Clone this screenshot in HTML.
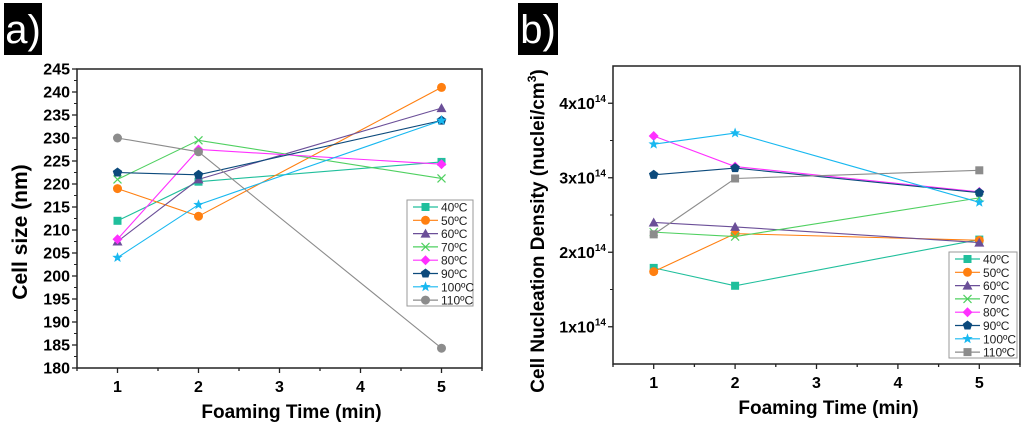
<!DOCTYPE html>
<html><head><meta charset="utf-8"><style>
body{margin:0;background:#fff;width:1024px;height:430px;overflow:hidden;font-family:"Liberation Sans",sans-serif}
svg{position:absolute;left:0;top:0}
</style></head><body>
<svg id="s" width="1024" height="430" xmlns="http://www.w3.org/2000/svg">
<rect x="4" y="3" width="38" height="52" fill="#000"/>
<text x="23" y="43" font-size="40" fill="#fff" text-anchor="middle" font-family="Liberation Sans">a)</text>
<rect x="518" y="3" width="40" height="52" fill="#000"/>
<text x="538" y="43" font-size="40" fill="#fff" text-anchor="middle" font-family="Liberation Sans">b)</text>
</svg>
<script>
const xCats=[1,2,5];
const seriesNames=["40ºC","50ºC","60ºC","70ºC","80ºC","90ºC","100ºC","110ºC"];
const colors=["#20bf9c","#ff7f10","#6b4f98","#4fd060","#ff30ff","#0c4a7c","#18b8f0","#8c8c8c"];
const aTicks=[180,185,190,195,200,205,210,215,220,225,230,235,240,245];
const a40=[212,220.5,224.8],a50=[219,213,241],a60=[207.5,221,236.5],a70=[221,229.5,221.2],a80=[208,227.5,224.3],a90=[222.5,222,233.8],a100=[204,215.5,233.8],a110=[230,227,184.3];
const bTicks=[1,2,3,4];
const b40=[1.79,1.55,2.17],b50=[1.74,2.25,2.16],b60=[2.40,2.34,2.13],b70=[2.27,2.21,2.73],b80=[3.56,3.15,2.81],b90=[3.04,3.13,2.80],b100=[3.45,3.60,2.67],b110=[2.24,2.99,3.10];
const xTicks=[1,2,3,4,5];
const NS="http://www.w3.org/2000/svg",S=document.getElementById('s');
function el(t,a,p){const e=document.createElementNS(NS,t);for(const k in a)e.setAttribute(k,a[k]);(p||S).appendChild(e);return e;}
function marker(g,shape,x,y,c){let e;
 if(shape=='sq')e=el('rect',{x:x-4,y:y-4,width:8,height:8,fill:c},g);
 else if(shape=='ci')e=el('circle',{cx:x,cy:y,r:4.5,fill:c},g);
 else if(shape=='tr')e=el('polygon',{points:`${x},${y-5} ${x+5},${y+4} ${x-5},${y+4}`,fill:c},g);
 else if(shape=='x')e=el('path',{d:`M${x-4} ${y-4}L${x+4} ${y+4}M${x+4} ${y-4}L${x-4} ${y+4}`,stroke:c,'stroke-width':1.2,fill:'none'},g);
 else if(shape=='di')e=el('polygon',{points:`${x},${y-5} ${x+5},${y} ${x},${y+5} ${x-5},${y}`,fill:c},g);
 else if(shape=='pe'){let p=[];for(let i=0;i<5;i++){const a=-Math.PI/2+i*2*Math.PI/5;p.push((x+5*Math.cos(a))+','+(y+5*Math.sin(a)));}e=el('polygon',{points:p.join(' '),fill:c},g);}
 else if(shape=='st'){let p=[];for(let i=0;i<10;i++){const a=-Math.PI/2+i*Math.PI/5,r=i%2?2.3:5.5;p.push((x+r*Math.cos(a))+','+(y+r*Math.sin(a)));}e=el('polygon',{points:p.join(' '),fill:c},g);}
 
 
}
function panel(o){
 const sx=v=>o.L+(v-0.5)/5*(o.R-o.L), sy=v=>o.B-(v-o.ymin)/(o.ymax-o.ymin)*(o.B-o.T);
 const g=el('g',{});
 
 
 const fr=el('rect',{x:o.L,y:o.T,width:o.R-o.L,height:o.B-o.T,fill:'none',stroke:'#222','stroke-width':1.5},g);
 
 
 for(let v=0.5;v<=5.5;v+=0.5){const maj=Number.isInteger(v);el('line',{x1:sx(v),x2:sx(v),y1:o.B,y2:o.B+(maj?5:3),stroke:'#222','stroke-width':1.3},g);}
 xTicks.forEach(v=>{const t=el('text',{x:sx(v),y:o.B+24,'font-size':16,'font-weight':'bold','text-anchor':'middle',fill:'#000'},g);t.textContent=v;
  
  });
 o.ticks.forEach((v,i)=>{el('line',{x1:o.L-5,x2:o.L,y1:sy(v),y2:sy(v),stroke:'#222','stroke-width':1.3},g);
  if(o.minor&&i<o.ticks.length-1)el('line',{x1:o.L-3,x2:o.L,y1:sy(v+o.minor),y2:sy(v+o.minor),stroke:'#222','stroke-width':1},g);
  const t=el('text',{x:o.L-7,y:sy(v)+5.5,'font-size':16,'font-weight':'bold','text-anchor':'end',fill:'#000'},g);
  if(o.sup){t.textContent=v+'x10';const ts=el('tspan',{dy:-7,'font-size':10},t);ts.textContent='14';}
  else t.textContent=v;
  
  });
 if(o.sup){el('line',{x1:o.L-3,x2:o.L,y1:sy(1.5),y2:sy(1.5),stroke:'#222'},g);}
 const xt=el('text',{x:(o.L+o.R)/2+12,y:o.B+50,'font-size':19,'font-weight':'bold','text-anchor':'middle',fill:'#000'},g);xt.textContent='Foaming Time (min)';
 
 
 const yt=el('text',{transform:`translate(${o.yx},${o.ymid}) rotate(-90)`,'font-size':o.ts,'font-weight':'bold','text-anchor':'middle',fill:'#000'},g);
 yt.textContent=o.ytitle; if(o.sup){const ts=el('tspan',{dy:-8,'font-size':12},yt);ts.textContent='3';const t2=el('tspan',{dy:8},yt);t2.textContent=')';}
 
 
 o.data.forEach((d,i)=>{const sg=el('g',{},g);
  
  
  el('polyline',{points:d.map((v,j)=>sx(xCats[j])+','+sy(v)).join(' '),fill:'none',stroke:colors[i],'stroke-width':1.1},sg);
  d.forEach((v,j)=>marker(sg,o.shapes[i],sx(xCats[j]),sy(v),colors[i]));});
 const lg=el('g',{},g);
 
 
 el('rect',{x:o.lx,y:o.ly,width:o.lw,height:106,fill:'#fff',stroke:'#999','stroke-width':1},lg);
 seriesNames.forEach((n,i)=>{const y=o.ly+7+i*13.3;
  el('line',{x1:o.lx+6,x2:o.lx+31,y1:y,y2:y,stroke:colors[i],'stroke-width':1.2},lg);
  marker(lg,o.shapes[i],o.lx+18.5,y,colors[i]);
  const t=el('text',{x:o.lx+34,y:y+4.5,'font-size':12,fill:'#222'},lg);t.textContent=n;
  
  });
}
panel({id:'cell-size',L:77,R:482,T:69,B:368,ymin:180,ymax:245,ticks:aTicks,minor:2.5,data:[a40,a50,a60,a70,a80,a90,a100,a110],
 shapes:['sq','ci','tr','x','di','pe','st','ci'],yx:27,ymid:232,ts:21,ytitle:'Cell size (nm)',lx:407,ly:200,lw:66});
panel({id:'nucleation',L:613,R:1020,T:66,B:364,ymin:0.5,ymax:4.5,ticks:bTicks,minor:0.5,sup:true,data:[b40,b50,b60,b70,b80,b90,b100,b110],
 shapes:['sq','ci','tr','x','di','pe','st','sq'],yx:544,ymid:231,ts:19,ytitle:'Cell Nucleation Density (nuclei/cm',lx:949,ly:252,lw:68});
</script>
</body></html>
